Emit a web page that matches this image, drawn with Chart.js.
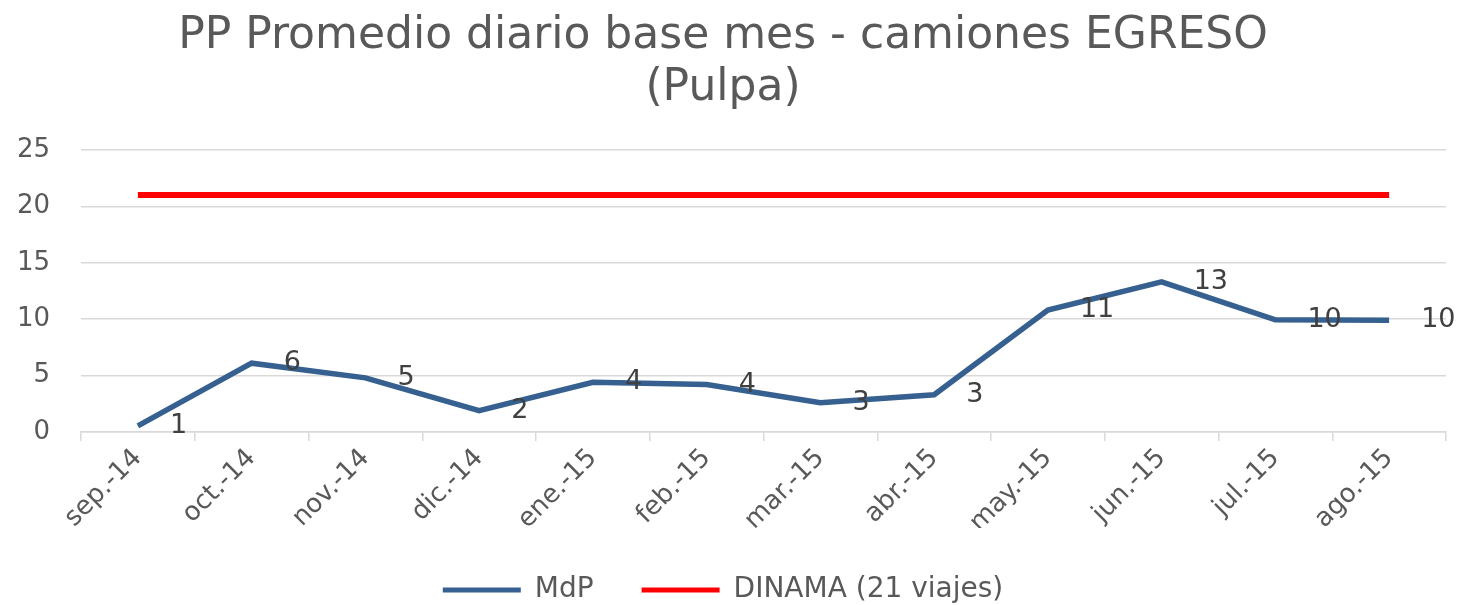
<!DOCTYPE html>
<html>
<head>
<meta charset="utf-8">
<script src="https://cdn.jsdelivr.net/npm/chart.js@4.4.1/dist/chart.umd.min.js"></script>
<style>
  html, body { margin: 0; padding: 0; background: #fff; }
  #wrap { width: 1465px; height: 605px; }
</style>
</head>
<body>
<div id="wrap"><canvas id="c" width="1465" height="605"></canvas></div>
<script>
// months shown on the x axis
var meses = ['sep.-14', 'oct.-14', 'nov.-14', 'dic.-14', 'ene.-15', 'feb.-15',
             'mar.-15', 'abr.-15', 'may.-15', 'jun.-15', 'jul.-15', 'ago.-15'];
// daily average of trucks
var mdp = [0.55, 6.1, 4.8, 1.9, 4.4, 4.2, 2.6, 3.3, 10.8, 13.3, 9.95, 9.9];
// DINAMA limit, 21 trips
var dinama = [21, 21, 21, 21, 21, 21, 21, 21, 21, 21, 21, 21];
var yTicks = [0, 5, 10, 15, 20, 25];

var GREY = '#595959';
var BLUE = '#36608f';
var RED = '#ff0000';

// value labels to the right of each MdP point
var valueLabels = {
  id: 'valueLabels',
  afterDatasetsDraw: function (c) {
    var meta = c.getDatasetMeta(0);
    var ctx = c.ctx;
    ctx.save();
    ctx.font = '27px "DejaVu Sans"';
    ctx.fillStyle = '#404040';
    ctx.textAlign = 'left';
    ctx.textBaseline = 'middle';
    meta.data.forEach(function (pt, i) {
      ctx.fillText(String(Math.round(mdp[i])), pt.x + 32, pt.y);
    });
    ctx.restore();
  }
};

new Chart(document.getElementById('c'), {
  type: 'line',
  data: {
    labels: meses,
    datasets: [
      { label: 'MdP', data: mdp, borderColor: BLUE, backgroundColor: BLUE, borderWidth: 5.5,
        pointRadius: 0, tension: 0 },
      { label: 'DINAMA (21 viajes)', data: dinama, borderColor: RED, backgroundColor: RED, borderWidth: 6,
        pointRadius: 0, tension: 0 }
    ]
  },
  plugins: [valueLabels],
  options: {
    responsive: false,
    animation: false,
    layout: { padding: { left: 0, right: 19, top: 0, bottom: -9 } },
    plugins: {
      title: {
        display: true,
        text: ['PP Promedio diario base mes - camiones EGRESO', '(Pulpa)'],
        color: GREY,
        font: { family: '"DejaVu Sans"', size: 44, weight: 'normal', lineHeight: 1.17 },
        padding: { top: 11, bottom: 36 }
      },
      legend: {
        position: 'bottom',
        labels: {
          color: GREY,
          font: { family: '"DejaVu Sans"', size: 28 },
          boxWidth: 78,
          boxHeight: 5,
          padding: 48,
          generateLabels: function (c) {
            return Chart.defaults.plugins.legend.labels.generateLabels(c).map(function (it) {
              it.lineWidth = 0;
              return it;
            });
          }
        }
      },
      tooltip: { enabled: false }
    },
    scales: {
      x: {
        offset: true,
        afterFit: function (s) { s.height = 96; },
        grid: { display: true, offset: true, drawOnChartArea: false, drawTicks: true, tickLength: 9,
                color: '#d9d9d9', lineWidth: 1.5 },
        border: { display: true, color: '#d9d9d9', width: 1.5 },
        ticks: { color: GREY, font: { family: '"DejaVu Sans"', size: 26 },
                 maxRotation: 45, minRotation: 45, autoSkip: false, padding: 2 }
      },
      y: {
        min: 0, max: 25,
        afterFit: function (s) { s.width = 81; },
        afterBuildTicks: function (s) { s.ticks = yTicks.map(function (v) { return { value: v }; }); },
        grid: { color: '#d9d9d9', lineWidth: 1.5, drawTicks: false },
        border: { display: false },
        ticks: { color: GREY, font: { family: '"DejaVu Sans"', size: 26 }, padding: 31 }
      }
    }
  }
});
</script>
</body>
</html>
